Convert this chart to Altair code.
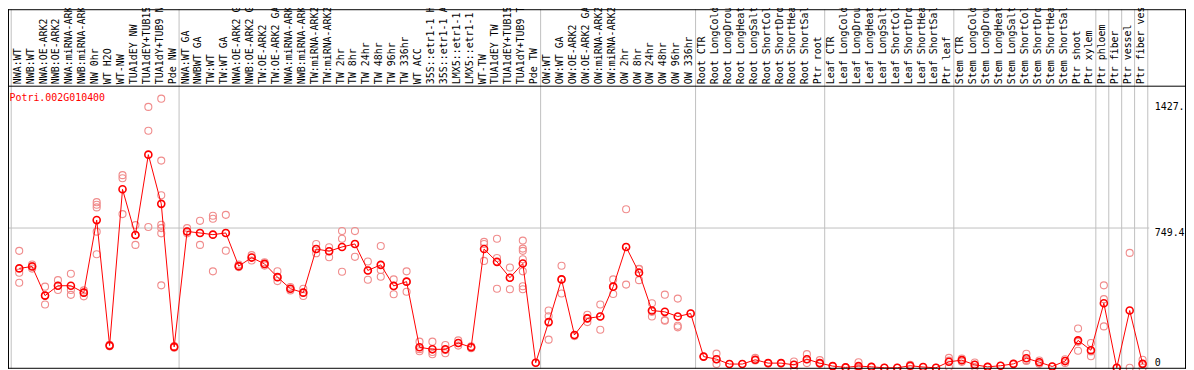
import json
import altair as alt
import pandas as pd

gene_name = "Potri.002G010400"

categories = [
    "NWA:WT", "NWB:WT", "NWA:OE-ARK2", "NWB:OE-ARK2", "NWA:miRNA-ARK2", "NWB:miRNA-ARK2",
    "NW 0hr", "WT H2O", "WT-NW", "TUA1dEY NW", "TUA1dEY+TUB15 NW", "TUA1dY+TUB9 NW", "Pde NW",
    "NWA:WT GA", "NWBWT GA", "TW:WT", "TW:WT GA", "NWA:OE-ARK2 GA", "NWB:OE-ARK2 GA",
    "TW:OE-ARK2", "TW:OE-ARK2 GA", "NWA:miRNA-ARK2", "NWB:miRNA-ARK2", "TW:miRNA-ARK2",
    "TW:miRNA-ARK2", "TW 2hr", "TW 8hr", "TW 24hr", "TW 48hr", "TW 96hr", "TW 336hr",
    "WT ACC", "35S::etr1-1 H2O", "35S::etr1-1 ACC", "LMX5::etr1-1 H2O", "LMX5::etr1-1 ACC",
    "WT-TW", "TUA1dEY TW", "TUA1dEY+TUB15 TW", "TUA1dY+TUB9 TW", "Pde TW",
    "OW:WT", "OW:WT GA", "OW:OE-ARK2", "OW:OE-ARK2 GA", "OW:miRNA-ARK2", "OW:miRNA-ARK2",
    "OW 2hr", "OW 8hr", "OW 24hr", "OW 48hr", "OW 96hr", "OW 336hr",
    "Root CTR", "Root LongCold", "Root LongDrought", "Root LongHeat", "Root LongSalt",
    "Root ShortCold", "Root ShortDrought", "Root ShortHeat", "Root ShortSalt", "Ptr root",
    "Leaf CTR", "Leaf LongCold", "Leaf LongDrought", "Leaf LongHeat", "Leaf LongSalt",
    "Leaf ShortCold", "Leaf ShortDrought", "Leaf ShortHeat", "Leaf ShortSalt", "Ptr leaf",
    "Stem CTR", "Stem LongCold", "Stem LongDrought", "Stem LongHeat", "Stem LongSalt",
    "Stem ShortCold", "Stem ShortDrought", "Stem ShortHeat", "Stem ShortSalt", "Ptr shoot",
    "Ptr xylem", "Ptr phloem", "Ptr fiber", "Ptr vessel", "Ptr fiber vessel",
]

means = [
    533, 543, 387, 440, 440, 403, 792, 119, 957, 712, 1143, 879, 112,
    731, 723, 714, 723, 545, 591, 557, 486, 424, 403, 637, 625, 648, 664, 522, 552, 439, 462,
    110, 99, 99, 133, 110, 637, 568, 483, 559, 27,
    245, 474, 176, 265, 275, 435, 648, 510, 307, 300, 275, 291,
    60, 46, 20, 20, 43, 25, 25, 16, 46, 25,
    9, 2, 9, 5, 0, 0, 11, 4, 0, 32,
    41, 16, 5, 11, 21, 51, 30, 7, 36, 147, 94,
    346, 0, 307, 21,
]

replicates = [
    [627, 510, 456], [554, 545, 532], [435, 387, 339], [470, 440, 417], [504, 417, 391],
    [415, 403, 383], [888, 874, 860, 730, 609], [115, 119, 123], [1033, 1016, 824],
    [765, 712, 659], [1399, 1271, 755], [1443, 1111, 925, 767, 749, 721, 442], [108, 112, 116],
    [749, 731, 721], [788, 723, 659], [815, 799, 517], [820, 723, 628], [554, 545, 540],
    [604, 591, 575], [566, 557, 548], [518, 486, 465], [433, 424, 415], [424, 403, 385],
    [664, 637, 614], [646, 625, 593], [733, 692, 515], [733, 664, 595], [570, 522, 472],
    [653, 524, 488], [474, 439, 394], [517, 462, 408],
    [140, 100, 89], [140, 85, 73], [122, 96, 78], [147, 133, 119], [115, 110, 105],
    [675, 664, 573], [692, 589, 424], [538, 483, 421], [682, 639, 627, 582, 517, 437, 421], [27],
    [307, 276, 151], [547, 474, 398], [176, 170], [284, 265, 245], [339, 275, 204],
    [474, 435, 396], [850, 648, 446], [531, 529, 470], [346, 300, 275], [392, 256, 252],
    [371, 225, 217], [291],
    [60], [76, 46, 20], [20], [20], [53, 43, 39], [25], [25], [34, 16, 0], [73, 46, 25], [41, 25, 21],
    [9], [2], [30, 0, 0], [5], [0], [0], [16, 11, 7], [4], [0], [53, 39, 4],
    [50, 41, 32], [28, 16, 4], [5], [11], [21], [75, 41, 37], [39, 30, 21], [7], [46, 36, 26],
    [211, 139, 91], [133, 87, 62],
    [442, 368, 222], [0], [616, 0], [43, 21, 0],
]

group_starts = [0, 13, 41, 53, 63, 73, 84, 85, 86, 87]

y_tick_values = [0, 749.4, 1427.3]
y_tick_labels = ["0", "749.4", "1427."]
y_max = 1512.6

# ---- layout (pixels) ----
W, H = 1148, 284
HEADER = 77
RIGHT = 38
FONT = "DejaVu Sans Mono"
RED = "#ff0000"
REP = "#f08c8c"
GRID = "#c0c0c0"

n = len(categories)
mean_df = pd.DataFrame({"idx": list(range(n)), "val": means, "cat": categories})
rep_df = pd.DataFrame(
    [{"idx": i, "val": v} for i, reps in enumerate(replicates) for v in reps]
)
bound_df = pd.DataFrame({"idx": [s - 0.62 for s in group_starts] + [n - 1 + 0.4]})
hgrid_df = pd.DataFrame({"val": [y_tick_values[1]]})
one_df = pd.DataFrame({"name": [gene_name]})

x_label_expr = json.dumps(categories) + "[round(datum.value)]"
y_label_expr = (
    "datum.value == 0 ? " + json.dumps(y_tick_labels[0])
    + " : datum.value < 1000 ? " + json.dumps(y_tick_labels[1])
    + " : " + json.dumps(y_tick_labels[2])
)

x_scale = alt.Scale(domain=[-0.869, n - 1 + 0.438], nice=False, zero=False)
y_scale = alt.Scale(domain=[0, y_max], nice=False, zero=True)

x_axis = alt.Axis(
    orient="top", values=list(range(n)), labelExpr=x_label_expr, labelAngle=270,
    labelAlign="left", labelBaseline="middle", labelPadding=2, labelOffset=-2,
    ticks=False, tickSize=0, domain=False, grid=False, labelOverlap=False,
    labelFlush=False, labelBound=False, labelFont=FONT, labelFontSize=10,
    labelColor="black", title=None, labelLimit=400,
)
y_axis = alt.Axis(
    orient="right", values=y_tick_values, labelExpr=y_label_expr,
    labelAlign="left",
    labelBaseline={"condition": {"test": "datum.value == 0", "value": "bottom"}, "value": "top"},
    labelPadding=6, ticks=False, tickSize=0, domain=False, grid=False,
    labelFont=FONT, labelFontSize=10, labelColor="black", title=None,
    labelOverlap=False, labelFlush=False,
)

X = alt.X("idx:Q", scale=x_scale, axis=x_axis)
Y = alt.Y("val:Q", scale=y_scale, axis=y_axis)

vgrid = alt.Chart(bound_df).mark_rule(color=GRID, strokeWidth=1).encode(
    x=X, y=alt.value(-HEADER), y2=alt.value(H + 1)
)
hgrid = alt.Chart(hgrid_df).mark_rule(color=GRID, strokeWidth=1).encode(
    y=Y, x=alt.value(0), x2=alt.value(W + 1)
)

frame_top = alt.Chart(one_df).mark_rule(color="black", strokeWidth=1).encode(
    x=alt.value(0), x2=alt.value(W + RIGHT), y=alt.value(-HEADER + 0.5)
)
frame_sep = alt.Chart(one_df).mark_rule(color="black", strokeWidth=1).encode(
    x=alt.value(0), x2=alt.value(W + RIGHT), y=alt.value(0.5)
)
frame_bot = alt.Chart(one_df).mark_rule(color="black", strokeWidth=1).encode(
    x=alt.value(0), x2=alt.value(W + RIGHT), y=alt.value(H + 0.5)
)
frame_left = alt.Chart(one_df).mark_rule(color="black", strokeWidth=1).encode(
    x=alt.value(0.5), y=alt.value(-HEADER), y2=alt.value(H + 1)
)
frame_right = alt.Chart(one_df).mark_rule(color="black", strokeWidth=1).encode(
    x=alt.value(W + RIGHT - 0.5), y=alt.value(-HEADER), y2=alt.value(H + 1)
)

reps = alt.Chart(rep_df).mark_point(
    shape="circle", filled=False, size=50, strokeWidth=1.1, color=REP, opacity=1
).encode(x=X, y=Y)

line = alt.Chart(mean_df).mark_line(color=RED, strokeWidth=1).encode(x=X, y=Y, order="idx:Q")

pts = alt.Chart(mean_df).mark_point(
    shape="circle", filled=False, size=50, strokeWidth=1.6, color=RED, opacity=1
).encode(x=X, y=Y)

title = alt.Chart(one_df).mark_text(
    align="left", baseline="middle", font=FONT, fontSize=10, color=RED
).encode(text="name:N", x=alt.value(1.5), y=alt.value(12))

chart = alt.layer(
    vgrid, hgrid, reps, line, pts, title,
    frame_top, frame_sep, frame_bot, frame_left, frame_right,
).properties(
    width=W, height=H,
    autosize=alt.AutoSizeParams(type="none"),
    padding={"left": 0, "top": HEADER, "right": RIGHT, "bottom": 1},
    background="white",
).configure_view(stroke=None)

chart.save("out.html", embed_options={"renderer": "svg", "actions": False})
